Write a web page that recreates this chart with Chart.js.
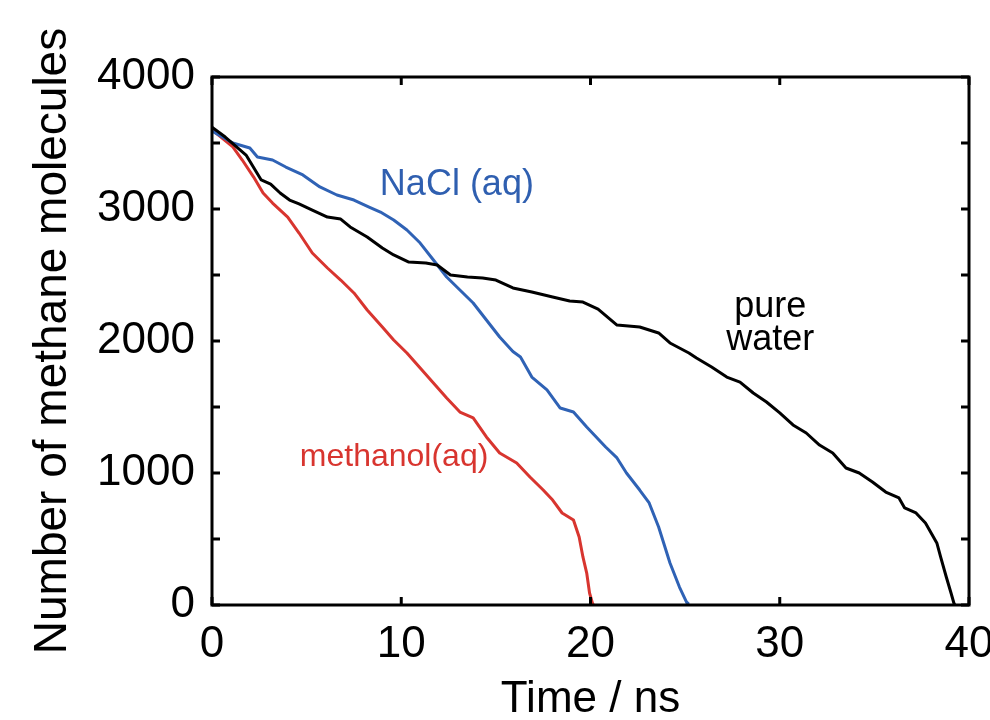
<!DOCTYPE html>
<html>
<head>
<meta charset="utf-8">
<script src="https://cdn.jsdelivr.net/npm/chart.js@4/dist/chart.umd.min.js"></script>
<style>
  html, body { margin: 0; padding: 0; background: #fff; overflow: hidden; }
  #wrap { width: 990px; height: 720px; }
</style>
</head>
<body>
<div id="wrap"><canvas id="methaneChart"></canvas></div>
<script>
// pure water
let waterTime = [0, 0.7, 1.8, 2.6, 3.1, 3.6, 4.1, 4.6, 5.3, 6.1, 6.8, 7.3, 8.2, 9.0, 9.6, 10.4, 11.3, 11.9, 12.6, 13.5,
    14.3, 15.0, 15.9, 16.9, 18.0, 18.9, 19.6, 20.4, 21.4, 22.6, 23.6, 24.2, 25.2, 25.6, 26.4, 27.2, 27.9, 28.6, 29.3, 30.0,
    30.7, 31.4, 32.1, 32.8, 33.5, 34.2, 34.9, 35.6, 36.3, 36.6, 37.2, 37.7, 38.3, 38.5, 38.8, 39.05, 39.2, 39.25];
let waterCount = [3620, 3545, 3409, 3220, 3189, 3121, 3068, 3038, 2992, 2939, 2924, 2864, 2788, 2705, 2652, 2598, 2591, 2576, 2500, 2485,
    2477, 2462, 2402, 2371, 2333, 2303, 2295, 2242, 2121, 2106, 2061, 1985, 1909, 1871, 1803, 1727, 1689, 1606, 1538, 1455,
    1364, 1303, 1212, 1152, 1038, 1000, 932, 856, 811, 735, 697, 621, 470, 364, 212, 91, 15, 0];

// NaCl (aq)
let naclTime = [0, 1.1, 2.0, 2.4, 3.2, 3.9, 4.8, 5.7, 6.6, 7.5, 8.3, 8.9, 9.6, 10.3, 11.0, 11.7, 12.4, 13.1, 13.8, 14.5,
    15.2, 15.9, 16.3, 16.9, 17.7, 18.4, 19.1, 19.8, 20.1, 20.8, 21.4, 21.9, 22.6, 23.1, 23.6, 24.2, 24.7, 25.1, 25.15];
let naclCount = [3590, 3500, 3462, 3394, 3371, 3318, 3258, 3167, 3106, 3068, 3015, 2977, 2917, 2841, 2742, 2614, 2485, 2386, 2288, 2159,
    2030, 1920, 1879, 1727, 1629, 1492, 1462, 1348, 1303, 1197, 1114, 1000, 871, 773, 591, 318, 136, 15, 0];

// methanol (aq)
let methTime = [0, 1.1, 1.6, 2.2, 2.7, 3.2, 4.0, 4.6, 5.3, 6.1, 6.8, 7.5, 8.2, 9.0, 9.6, 10.3, 11.0, 11.7, 12.4, 13.1,
    13.8, 14.5, 15.2, 16.1, 16.8, 17.5, 18.0, 18.5, 19.1, 19.4, 19.6, 19.8, 19.95, 20.1, 20.15];
let methCount = [3600, 3470, 3371, 3242, 3121, 3045, 2939, 2818, 2667, 2553, 2462, 2364, 2235, 2106, 2008, 1909, 1795, 1682, 1568, 1462,
    1417, 1273, 1152, 1076, 970, 871, 795, 697, 644, 515, 364, 242, 91, 15, 0];

let xTicks = [0, 10, 20, 30, 40];
let yTicks = [0, 1000, 2000, 3000, 4000];

// text labels inside the plot: [text, time, count, color]
let curveLabels = [
    ['NaCl (aq)', 8.87, 3106, '#2f5fb0'],
    ['pure', 29.5, 2182, '#000000'],
    ['water', 29.5, 1932, '#000000'],
    ['methanol(aq)', 4.64, 1053, '#d8352f']
];

const FONT = '"Liberation Sans", Arial, Helvetica, sans-serif';

const toPoints = (ts, ns) => ts.map((t, i) => ({ x: t, y: ns[i] }));

// frame + inward ticks on all four sides
const frameTicks = {
    id: 'frameTicks',
    afterDatasetsDraw(chart) {
        const { ctx, chartArea: a, scales: { x, y } } = chart;
        const len = 8;
        ctx.save();
        ctx.strokeStyle = '#000';
        ctx.lineWidth = 3;
        ctx.lineCap = 'butt';
        ctx.beginPath();
        x.ticks.forEach(t => {
            let px = x.getPixelForValue(t.value);
            ctx.moveTo(px, a.bottom); ctx.lineTo(px, a.bottom - len);
            ctx.moveTo(px, a.top); ctx.lineTo(px, a.top + len);
        });
        y.ticks.forEach(t => {
            let py = y.getPixelForValue(t.value);
            ctx.moveTo(a.left, py); ctx.lineTo(a.left + len, py);
            ctx.moveTo(a.right, py); ctx.lineTo(a.right - len, py);
        });
        ctx.stroke();
        ctx.lineJoin = 'miter';
        ctx.strokeRect(a.left, a.top, a.right - a.left, a.bottom - a.top);
        ctx.restore();
    }
};

const curveText = {
    id: 'curveText',
    afterDraw(chart) {
        const { ctx, scales: { x, y } } = chart;
        ctx.save();
        ctx.textBaseline = 'alphabetic';
        curveLabels.forEach(([txt, t, n, color]) => {
            ctx.fillStyle = color;
            if (txt === 'methanol(aq)') {
                ctx.font = '32px ' + FONT;
                ctx.textAlign = 'left';
            } else if (txt === 'NaCl (aq)') {
                ctx.font = '36px ' + FONT;
                ctx.textAlign = 'left';
            } else {
                ctx.font = '36px ' + FONT;
                ctx.textAlign = 'center';
            }
            ctx.fillText(txt, x.getPixelForValue(t), y.getPixelForValue(n));
        });
        ctx.restore();
    }
};

let ctx = document.getElementById('methaneChart');
let myChart = new Chart(ctx, {
    type: 'line',
    data: {
        datasets: [
            { label: 'pure water', data: toPoints(waterTime, waterCount), borderColor: '#000000', borderWidth: 3 },
            { label: 'NaCl (aq)', data: toPoints(naclTime, naclCount), borderColor: '#2f62b5', borderWidth: 3 },
            { label: 'methanol(aq)', data: toPoints(methTime, methCount), borderColor: '#d8352f', borderWidth: 3 }
        ]
    },
    options: {
        responsive: true,
        maintainAspectRatio: false,
        animation: false,
        events: [],
        elements: { point: { radius: 0 }, line: { tension: 0, borderJoinStyle: 'round' } },
        layout: { padding: { top: 77, right: 21, bottom: 0, left: 0 } },
        plugins: { legend: { display: false }, tooltip: { enabled: false } },
        scales: {
            x: {
                type: 'linear',
                min: 0,
                max: 40,
                grid: { display: false, drawTicks: false },
                border: { display: false },
                ticks: {
                    stepSize: 10,
                    autoSkip: false,
                    maxRotation: 0,
                    padding: 13,
                    color: '#000',
                    font: { family: FONT, size: 44 },
                    callback: v => xTicks.includes(v) ? String(v) : ''
                },
                title: {
                    display: true,
                    text: 'Time / ns',
                    color: '#000',
                    font: { family: FONT, size: 44, lineHeight: 0.9 },
                    padding: { top: 0, bottom: 0 }
                },
                afterFit(scale) {
                    scale.height = 115;
                    scale.paddingRight = 0;
                    scale.paddingLeft = 0;
                }
            },
            y: {
                min: 0,
                max: 4000,
                grid: { display: false, drawTicks: false },
                border: { display: false },
                ticks: {
                    stepSize: 500,
                    autoSkip: false,
                    padding: 17,
                    color: '#000',
                    font: { family: FONT, size: 44 },
                    callback: v => yTicks.includes(v) ? String(v) : ''
                },
                title: {
                    display: true,
                    text: 'Number of methane molecules',
                    color: '#000',
                    font: { family: FONT, size: 46 },
                    padding: { top: 26, bottom: 0 }
                },
                afterFit(scale) {
                    scale.width = 212;
                    scale.paddingTop = 0;
                    scale.paddingBottom = 0;
                }
            }
        }
    },
    plugins: [frameTicks, curveText]
});
</script>
</body>
</html>
